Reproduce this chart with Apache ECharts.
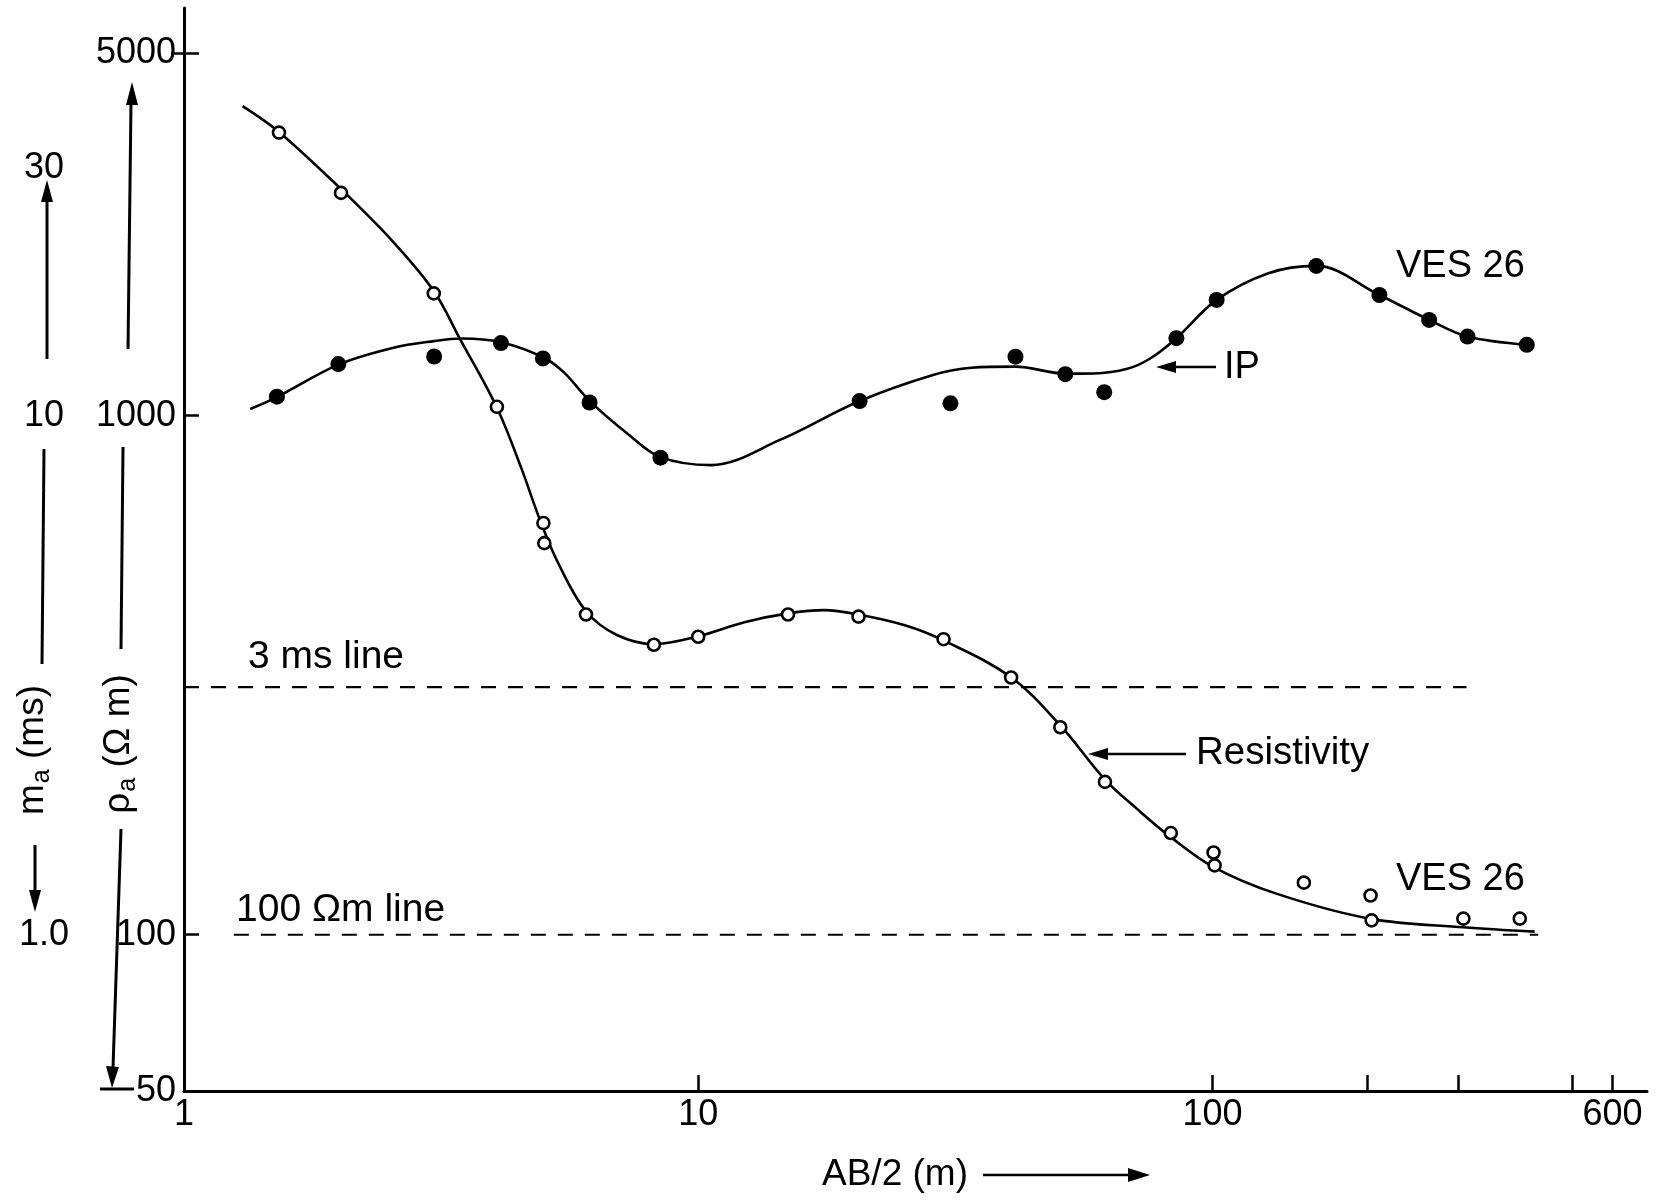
<!DOCTYPE html>
<html><head><meta charset="utf-8">
<script src="https://cdn.jsdelivr.net/npm/echarts@6/dist/echarts.min.js"></script>
<style>html,body{margin:0;padding:0;background:#fff}#c{width:1667px;height:1203px}</style>
</head><body><div id="c"></div>
<script>
// ---- data ----
// Resistivity measurements (open circles): AB/2 (m), rho_a (ohm m)
const resX = [1.53, 2.02, 3.06, 4.06, 5.0, 5.02, 6.05, 8.2, 10.0, 14.95, 20.5, 30.0, 40.6, 50.6, 61.8, 83.0, 100.5, 101, 150.6, 203, 204, 307.6, 396];
const resY = [3510, 2686, 1720, 1040, 621, 568, 414, 362, 375, 414, 410, 371, 313, 251, 197, 157, 144, 136, 126, 119, 106.6, 107.4, 107.4];
// IP measurements (filled dots): AB/2 (m), plotted on rho scale (m_a = rho/100)
const ipX = [1.516, 1.996, 3.065, 4.134, 4.989, 6.148, 8.445, 20.6, 30.94, 41.4, 51.76, 61.6, 85.1, 101.9, 159.2, 211.2, 263.9, 313.3, 408.6];
const ipY = [1088, 1257, 1300, 1380, 1289, 1060, 830, 1067, 1056, 1299, 1202, 1110, 1410, 1671, 1943, 1708, 1529, 1420, 1369];
// Hand-drawn fitted curves
const resCurveX = [1.30, 1.528, 2.014, 2.556, 3.062, 3.434, 4.057, 4.525, 4.93, 5.346, 6.05, 6.947, 8.21, 10.02, 12.3, 14.95, 17.59, 20.48, 25.13, 29.98, 40.65, 50.6, 61.8, 71.7, 83.1, 100.5, 133.1, 203.3, 307.6, 423.3];
const resCurveY = [3948, 3525, 2740, 2158, 1737, 1411, 1038, 794, 627, 519, 420, 378, 363, 376, 400, 416, 422, 414, 395, 369, 313, 253, 199, 174, 154, 135, 120, 107.3, 103.4, 101.4];
const ipCurveX = [1.345, 1.516, 1.996, 2.556, 3.062, 3.466, 4.134, 4.989, 5.475, 6.148, 7.288, 8.445, 10.59, 14.42, 20.6, 28.62, 33.97, 41.4, 51.76, 58.8, 68.3, 75.8, 85.1, 101.9, 128.5, 159.2, 211.2, 263.9, 313.3, 408.6];
const ipCurveY = [1030, 1086, 1254, 1352, 1392, 1408, 1385, 1296, 1213, 1068, 923, 832, 803, 898, 1067, 1198, 1237, 1243, 1205, 1206, 1231, 1290, 1410, 1671, 1881, 1943, 1708, 1529, 1420, 1369];
// Reference lines
const msLineX = [1.0, 312];  const msLineValue = 3;      // 3 ms line (m_a scale)
const ohmLineX = [1.25, 430]; const ohmLineValue = 100;  // 100 ohm m line
// Axis ticks / labels
const xLabelValues = [1, 10, 100, 600];
const xTickValues = [10, 100, 200, 300, 500, 600];
const rhoLabelValues = [50, 100, 1000, 5000];
const rhoTickValues = [100, 1000, 5000];
const maLabelValues = [1, 10, 30];

const zip = (a, b) => a.map((v, i) => [v, b[i]]);
const INK = '#000';
const FONT = "'Liberation Sans', Arial, Helvetica, sans-serif";

const chart = echarts.init(document.getElementById('c'), null, {renderer: 'canvas'});

function line(x1, y1, x2, y2, w) {
  return {type: 'line', shape: {x1, y1, x2, y2}, style: {stroke: INK, lineWidth: w || 2.5}, silent: true};
}
function head(points) {
  return {type: 'polygon', shape: {points}, style: {fill: INK}, silent: true};
}
function txt(x, y, text, size, extra) {
  return Object.assign({type: 'text', x, y, silent: true,
    style: {text, fill: INK, font: `${size || 37}px ${FONT}`, textAlign: 'left', textVerticalAlign: 'middle'}}, extra || {});
}
function sublabel(x, y, main, sub, rest) {
  return {type: 'text', x, y, rotation: Math.PI / 2, silent: true,
    style: {
      text: `{m|${main}}{s|${sub}}{m|${rest}}`,
      align: 'center', verticalAlign: 'middle',
      rich: {
        m: {fontSize: 37, fontFamily: FONT, fill: INK, lineHeight: 44, verticalAlign: 'middle'},
        s: {fontSize: 25, fontFamily: FONT, fill: INK, lineHeight: 44, verticalAlign: 'bottom', padding: [0, 0, 0, 1]}
      }
    }};
}

const option = {
  animation: false,
  backgroundColor: '#fff',
  grid: {left: 184, right: 20, top: 8, bottom: 112, containLabel: false, outerBoundsMode: 'none'},
  xAxis: {
    type: 'log', logBase: 10, min: 1, max: 700,
    axisLine: {show: true, lineStyle: {color: INK, width: 3}},
    axisTick: {show: true, inside: true, length: 16, lineStyle: {color: INK, width: 2.5}, customValues: xTickValues},
    axisLabel: {show: true, color: INK, fontSize: 36, fontFamily: FONT, margin: 6, customValues: xLabelValues,
      formatter: v => String(Math.round(v))},
    splitLine: {show: false}, minorTick: {show: false}
  },
  yAxis: [
    {
      type: 'log', logBase: 10, min: 50, max: 6100,
      axisLine: {show: true, lineStyle: {color: INK, width: 3}},
      axisTick: {show: true, inside: true, length: 15, lineStyle: {color: INK, width: 2.5}, customValues: rhoTickValues},
      axisLabel: {show: true, color: INK, fontSize: 36, fontFamily: FONT, margin: 8, customValues: rhoLabelValues,
        formatter: v => String(Math.round(v))},
      splitLine: {show: false}, minorTick: {show: false}
    },
    {
      type: 'log', logBase: 10, min: 0.5, max: 61, position: 'left', offset: 140,
      axisLine: {show: false}, axisTick: {show: false},
      axisLabel: {show: true, color: INK, fontSize: 36, fontFamily: FONT, margin: 0, align: 'center', customValues: maLabelValues,
        formatter: v => (Math.abs(v - 1) < 1e-6 ? '1.0' : String(Math.round(v)))},
      splitLine: {show: false}, minorTick: {show: false}
    },
    {
      type: 'log', logBase: 10, min: 50, max: 6100, position: 'left',
      axisLine: {show: false},
      axisTick: {show: true, inside: false, length: 13, lineStyle: {color: INK, width: 2.5}, customValues: [5000]},
      axisLabel: {show: false},
      splitLine: {show: false}, minorTick: {show: false}
    }
  ],
  series: [
    {type: 'line', name: 'Resistivity curve', data: zip(resCurveX, resCurveY), smooth: 0.35, symbol: 'none',
      lineStyle: {color: INK, width: 2.6}, z: 2},
    {type: 'line', name: 'IP curve', data: zip(ipCurveX, ipCurveY), smooth: 0.35, symbol: 'none',
      lineStyle: {color: INK, width: 2.6}, z: 2},
    {type: 'line', name: '3 ms line', yAxisIndex: 1, data: msLineX.map(x => [x, msLineValue]), symbol: 'none',
      lineStyle: {color: INK, width: 2.2, type: [15, 12]}, z: 1},
    {type: 'line', name: '100 Ωm line', data: ohmLineX.map(x => [x, ohmLineValue]), symbol: 'none',
      lineStyle: {color: INK, width: 2.2, type: [15, 12]}, z: 1},
    {type: 'scatter', name: 'Resistivity', data: zip(resX, resY), symbol: 'circle', symbolSize: 12,
      itemStyle: {color: '#fff', borderColor: INK, borderWidth: 2.6, opacity: 1}, z: 5},
    {type: 'scatter', name: 'IP', data: zip(ipX, ipY), symbol: 'circle', symbolSize: 16,
      itemStyle: {color: INK, opacity: 1}, z: 5}
  ],
  graphic: [
    // x-axis title with arrow
    txt(822, 1175, 'AB/2 (m)', 37),
    line(983, 1175, 1133, 1175, 2.5),
    head([[1150, 1175], [1128, 1168], [1128, 1182]]),
    // annotations
    txt(1396, 267, 'VES 26', 38),
    txt(1224, 368, 'IP', 38),
    line(1172, 367, 1216, 367, 2.5),
    head([[1156, 367], [1176, 361], [1176, 373]]),
    txt(1196, 753, 'Resistivity', 38.5),
    line(1104, 754, 1186, 754, 2.5),
    head([[1088, 754], [1108, 748], [1108, 760]]),
    txt(1396, 880, 'VES 26', 38),
    txt(248, 657, '3 ms line', 39),
    txt(236, 910, '100 Ωm line', 39),
    // m_a scale arrows and label
    line(47, 359, 47, 198, 3),
    head([[47, 180], [41, 202], [53, 202]]),
    line(44, 449, 42, 664, 3),
    sublabel(33, 750, 'm', 'a', ' (ms)'),
    line(35, 845, 35, 893, 3),
    head([[35, 912], [29, 890], [41, 890]]),
    // rho scale arrows and label
    line(128, 349, 131, 102, 3),
    head([[132, 82], [126, 105], [138, 105]]),
    line(123, 447, 121, 649, 3),
    sublabel(119, 744, 'ρ', 'a', ' (Ω m)'),
    line(121, 829, 113, 1068, 3),
    head([[112, 1088], [106, 1066], [119, 1067]]),
    line(100, 1089, 134, 1089, 3)
  ]
};
chart.setOption(option);
</script>
</body></html>
